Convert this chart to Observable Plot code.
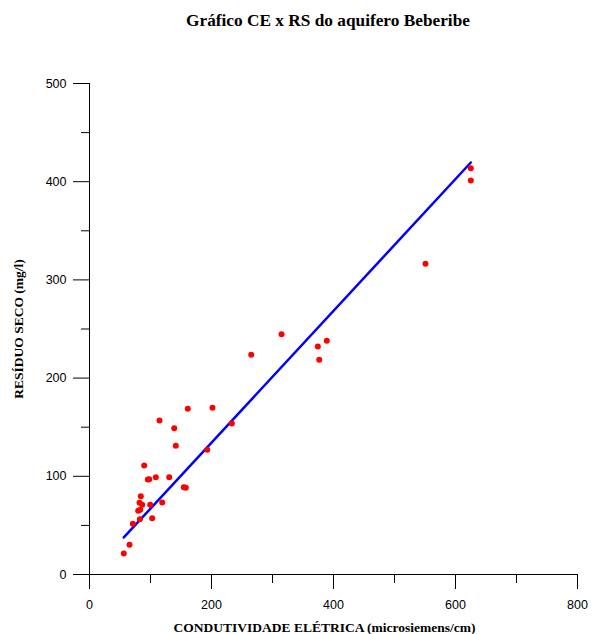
<!DOCTYPE html>
<html>
<head>
<meta charset="utf-8">
<script src="https://cdn.jsdelivr.net/npm/d3@7"></script>
<script src="https://cdn.jsdelivr.net/npm/@observablehq/plot@0.6"></script>
<style>
  html, body { margin: 0; padding: 0; background: white; }
  #title {
    width: 592px; height: 40px; box-sizing: border-box; padding-left: 64px;
    text-align: center; line-height: 41px;
    font-family: "Liberation Serif", "Times New Roman", serif; font-weight: bold; font-size: 17.3px;
  }
</style>
</head>
<body>
<div id="title">Gráfico CE x RS do aquifero Beberibe</div>
<div id="chart"></div>
<script>
// Data
const ce = [56.2, 65.6, 71.0, 82.5, 102.8, 79.8, 83.1, 82.0, 86.4, 99.5, 119.2, 84.1, 95.6, 97.9, 108.7, 130.7, 89.7,
            154.6, 157.9, 193.0, 141.5, 138.9, 114.8, 161.1, 201.6, 233.3, 265.1, 314.8, 374.3, 389.0, 376.6, 550.8, 625.1, 625.1];
const rs = [21.4, 30.2, 51.6, 56.3, 57.3, 64.9, 65.9, 73.0, 71.0, 71.0, 73.3, 79.7, 96.7, 97.0, 99.1, 99.1, 111.0,
            88.9, 88.3, 127.0, 131.1, 149.0, 156.8, 168.7, 169.8, 153.8, 223.7, 244.7, 232.2, 238.0, 218.6, 316.4, 413.7, 401.2];
const xTicks = [0, 200, 400, 600, 800];
const xMinor = [100, 300, 500, 700];
const yTicks = [0, 100, 200, 300, 400, 500];
const yMinor = [50, 150, 250, 350, 450];
const xLabel = "CONDUTIVIDADE ELÉTRICA (microsiemens/cm)";
const yLabel = "RESÍDUO SECO (mg/l)";

const data = ce.map((x, i) => ({ce: x, rs: rs[i]}));

// Linear regression through the origin, drawn over the data extent
const sxy = d3.sum(data, d => d.ce * d.rs);
const sxx = d3.sum(data, d => d.ce * d.ce);
const slope = sxy / sxx;
const [xmin, xmax] = d3.extent(ce);
const fit = [xmin, xmax].map(x => ({ce: x, rs: slope * x}));

const serif = "'Liberation Serif', 'Times New Roman', serif";

const chart = Plot.plot({
  width: 592,
  height: 594,
  marginTop: 43,
  marginBottom: 60,
  marginLeft: 89,
  marginRight: 15,
  x: {domain: [0, 800]},
  y: {domain: [0, 500]},
  style: {fontFamily: "'Liberation Sans', Arial, sans-serif", fontSize: "12.5px", color: "black", background: "white"},
  marks: [
    Plot.axisY({ticks: yMinor, tickSize: 8, tickFormat: () => "", label: null}),
    Plot.axisY({ticks: yTicks, tickSize: 16, tickPadding: 7, label: null}),
    Plot.axisX({ticks: xMinor, tickSize: 9, tickFormat: () => "", label: null}),
    Plot.axisX({ticks: xTicks, tickSize: 15, tickPadding: 11, label: null}),
    Plot.ruleX([0]),
    Plot.ruleY([0]),
    Plot.line(fit, {x: "ce", y: "rs", stroke: "#0000ff", strokeWidth: 2.5}),
    Plot.dot(data, {x: "ce", y: "rs", r: 3, fill: "#ff0000"}),
    Plot.text([yLabel], {frameAnchor: "left", dx: -71, rotate: -90, text: d => d,
      textAnchor: "middle", lineAnchor: "middle",
      fontFamily: serif, fontWeight: "bold", fontSize: 13.5}),
    Plot.text([xLabel], {frameAnchor: "bottom", dy: 53, dx: -9, text: d => d,
      textAnchor: "middle", lineAnchor: "middle",
      fontFamily: serif, fontWeight: "bold", fontSize: 13.5})
  ]
});
document.getElementById("chart").appendChild(chart);
</script>
</body>
</html>
